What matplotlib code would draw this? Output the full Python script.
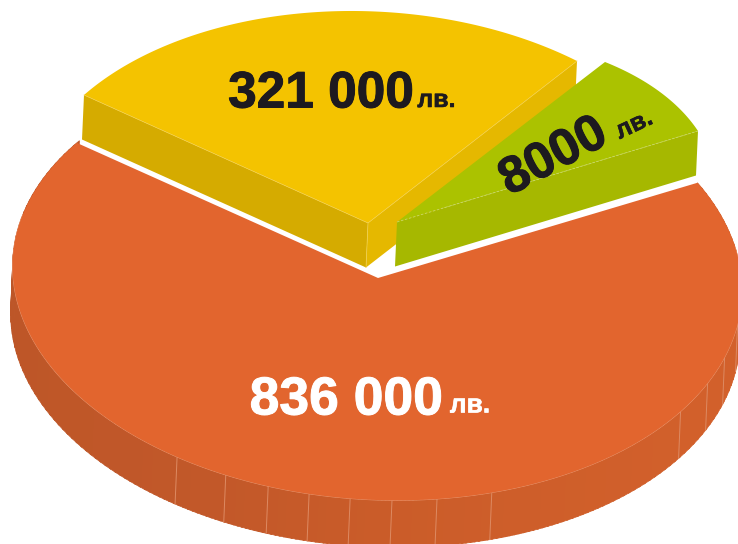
import numpy as np
import matplotlib
matplotlib.use("Agg")
import matplotlib.pyplot as plt
import matplotlib.patheffects as pe
from matplotlib.colors import to_rgb

# slices as printed on the picture
values = [836000, 321000, 8000]
value_labels = ["836 000", "321 000", "8000"]
currency = "лв."

# the drawn angles do not follow the values, so they are read off the picture (deg, y down)
start_deg = [-16.6, -155.74, -37.57]
end_deg = [204.16, -37.78, -16.82]
rim_ticks = [7.4, 12.9, 17.7, 23.8, 62.07, 75.05, 86.4, 97.2, 107.7, 117.8, 127.7, 138.3]

# geometry of the tilted disc
apex = [(378, 278), (368, 223), (397, 222)]
conic = [
    (7.5418e-06, -1.3431e-06, 2.0352e-05, 1.1302e-05, -1.5993e-05),
    (8.467e-06, -1.327e-06, 2.230e-05, 0, 0),
    (1.0028e-05, 5.512e-06, 2.928e-05, 0, 0),
]
rim_depth = (-2, 47)
slab_depth = (-2, 44.5)

top_colors = ["#e2652e", "#f4c300", "#abc200"]
text_colors = ["white", "#1d1a1f", "#1d1a1f"]
rim_stops = [20, 90, 130, 180]
rim_colors = ["#d2602b", "#ca5c29", "#c25829", "#bd5628"]


def arc(i, a0, a1, n=200):
    # radius from apex along each direction, from the conic of slice i
    t = np.radians(np.linspace(a0, a1, n))
    c, s = np.cos(t), np.sin(t)
    A, B, C, D, E = conic[i]
    q = A * c * c + B * c * s + C * s * s
    l = D * c + E * s
    r = (-l + np.sqrt(l * l + 4 * q)) / (2 * q)
    return apex[i][0] + r * c, apex[i][1] + r * s


def rim_color(a):
    rgb = np.array([to_rgb(c) for c in rim_colors])
    return [np.interp(a, rim_stops, rgb[:, k]) for k in range(3)]


def side_face(ax, i, deg, color, zorder):
    # flat wall under the straight edge of a slice
    x, y = arc(i, deg, deg, 1)
    ax0, ay0 = apex[i]
    xs = [ax0, x[0], x[0] + slab_depth[0], ax0 + slab_depth[0]]
    ys = [ay0, y[0], y[0] + slab_depth[1], ay0 + slab_depth[1]]
    ax.fill(xs, ys, color=color, lw=0, zorder=zorder)


def label(x, y, s, color, size, rotation=0, stroke=0.7):
    t = ax.text(x, y, s, color=color, fontsize=size, fontweight="bold",
                family=["Liberation Sans", "DejaVu Sans"], ha="center", va="baseline",
                rotation=rotation, rotation_mode="anchor", zorder=10)
    t.set_path_effects([pe.withStroke(linewidth=stroke, foreground=color)])


fig = plt.figure(figsize=(7.38, 5.44), dpi=100)
ax = fig.add_axes([0, 0, 1, 1])
ax.set_xlim(0, 738)
ax.set_ylim(544, 0)
ax.axis("off")

# orange rim, cut in small pieces for the shading
edges = np.arange(start_deg[0], end_deg[0] + 1, 1.0)
for a0, a1 in zip(edges[:-1], edges[1:]):
    x, y = arc(0, a0, a1 + 0.3, 6)
    xs = np.r_[x, x[::-1] + rim_depth[0]]
    ys = np.r_[y, y[::-1] + rim_depth[1]]
    ax.fill(xs, ys, facecolor=rim_color(a0), edgecolor=rim_color(a0), lw=0.5, zorder=1)
for a in rim_ticks:
    x, y = arc(0, a, a, 1)
    ax.plot([x[0], x[0] + rim_depth[0]], [y[0], y[0] + rim_depth[1]], color="#dd8a62", lw=0.7, zorder=2)
x, y = arc(0, start_deg[0], end_deg[0])
ax.fill(np.r_[apex[0][0], x], np.r_[apex[0][1], y], color=top_colors[0], lw=0, zorder=3)
x, y = arc(0, -5, 190)
ax.plot(x, y, color="#eb9b75", lw=0.6, zorder=2.5)

# yellow slice
side_face(ax, 1, start_deg[1], "#d5ab00", 4)
side_face(ax, 1, end_deg[1], "#e5b800", 4)
x, y = arc(1, start_deg[1], end_deg[1])
ax.fill(np.r_[apex[1][0], x], np.r_[apex[1][1], y], color=top_colors[1], lw=0, zorder=5)
ax.plot([x[0], apex[1][0], x[-1]], [y[0], apex[1][1], y[-1]], color="#f3cf4a", lw=0.5, zorder=6)
ax.plot([apex[1][0], apex[1][0] + slab_depth[0]], [apex[1][1], apex[1][1] + slab_depth[1]],
        color="#f0d050", lw=0.5, zorder=6)

# green slice
side_face(ax, 2, end_deg[2], "#a6b800", 7)
x, y = arc(2, start_deg[2], end_deg[2])
ax.fill(np.r_[apex[2][0], x], np.r_[apex[2][1], y], color=top_colors[2], lw=0, zorder=8)
ax.plot([apex[2][0], x[-1]], [apex[2][1], y[-1]], color="#c9d767", lw=0.6, ls=(0, (3, 2)), zorder=9)

# labels
label(346.5, 414.5, value_labels[0], text_colors[0], 38.5)
label(470, 412.5, currency, text_colors[0], 19, stroke=0.4)
label(321, 107.5, value_labels[1], text_colors[1], 37)
label(436.5, 107, currency, text_colors[1], 18, stroke=0.4)
label(560, 169, value_labels[2], text_colors[2], 37, rotation=28)
label(637, 131, currency, text_colors[2], 18, rotation=25, stroke=0.4)

fig.savefig("out.png", dpi=100)
